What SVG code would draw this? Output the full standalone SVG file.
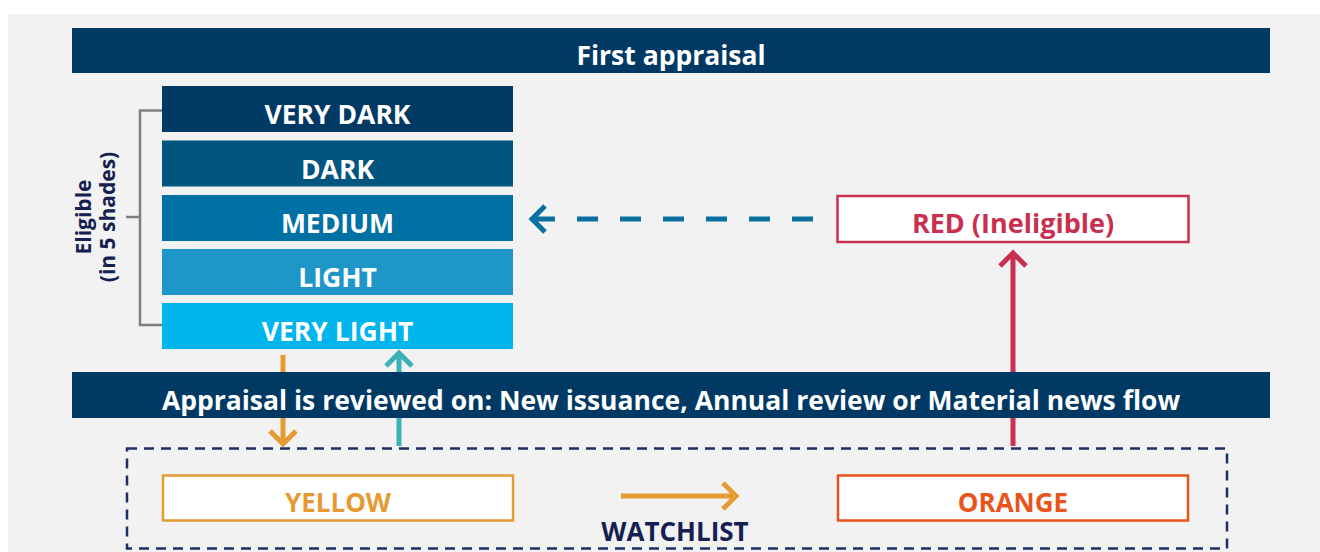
<svg xmlns="http://www.w3.org/2000/svg" width="1320" height="552" viewBox="0 0 1320 552">
<style>
text{font-family:"Open Sans","Noto Sans","Liberation Sans",sans-serif;font-weight:700;text-anchor:middle}
.wt{fill:#ffffff;font-size:26.5px}
.band{fill:#003a64}
.conn{fill:none;stroke-width:5}
.box{fill:#ffffff;stroke-width:2.5}
</style>
<rect x="0" y="0" width="1320" height="552" fill="#ffffff"/>
<rect x="8" y="14" width="1312" height="538" fill="#f2f2f2"/>

<g id="connectors">
  <path class="conn" d="M283 355V443M270 431L283 444L296 431" stroke="#e59b32"/>
  <path class="conn" d="M399 446V353M386 366L399 353L412 366" stroke="#3bb3b6"/>
  <path class="conn" d="M1013 446V253M1000 266L1013 253L1026 266" stroke="#c9304f"/>
  <path class="conn" d="M534 219H815" stroke="#0b6fa0" stroke-dasharray="21 22"/>
  <path class="conn" d="M545 206L532 219L545 232" stroke="#0b6fa0"/>
  <path class="conn" d="M621 496H734M723 483L736 496L723 509" stroke="#e59b32"/>
  <path d="M162 110.5H140V325H162M126 217H140" fill="none" stroke="#7f7f7f" stroke-width="2.5"/>
</g>

<g id="first-appraisal">
  <rect class="band" x="72" y="28" width="1198" height="45"/>
  <text class="wt" x="671" y="65">First appraisal</text>
</g>

<g id="eligible-label">
  <text transform="translate(91 217) rotate(-90)" x="0" y="0" style="font-size:21px;fill:#14204f">Eligible</text>
  <text transform="translate(115 217) rotate(-90)" x="0" y="0" style="font-size:21px;fill:#14204f">(in 5 shades)</text>
</g>

<g id="very-dark">
  <rect x="162" y="86" width="351" height="46" fill="#003a64"/>
  <text class="wt" x="337.5" y="124">VERY DARK</text>
</g>
<g id="dark">
  <rect x="162" y="140.5" width="351" height="46" fill="#01557f"/>
  <text class="wt" x="337.5" y="178.5">DARK</text>
</g>
<g id="medium">
  <rect x="162" y="195" width="351" height="46" fill="#0071a5"/>
  <text class="wt" x="337.5" y="232.5">MEDIUM</text>
</g>
<g id="light">
  <rect x="162" y="249" width="351" height="46" fill="#1e96c7"/>
  <text class="wt" x="337.5" y="286.5">LIGHT</text>
</g>
<g id="very-light">
  <rect x="162" y="303" width="351" height="46" fill="#00b4ec"/>
  <text class="wt" x="337.5" y="340.5">VERY LIGHT</text>
</g>

<g id="red">
  <rect class="box" x="837.5" y="196" width="351" height="46" stroke="#c9304f"/>
  <text x="1013" y="233" style="font-size:27px;fill:#c9304f">RED (Ineligible)</text>
</g>

<g id="review">
  <rect class="band" x="72" y="372" width="1198" height="46"/>
  <text class="wt" x="671" y="410">Appraisal is reviewed on: New issuance, Annual review or Material news flow</text>
</g>

<g id="watchlist">
  <rect x="127" y="448.5" width="1100" height="100" fill="none" stroke="#1f2f66" stroke-width="2.5" stroke-dasharray="10 7"/>
  <text x="675" y="541" style="font-size:26px;fill:#14204f">WATCHLIST</text>
</g>

<g id="yellow">
  <rect class="box" x="163" y="475.5" width="350" height="45" stroke="#e59b32"/>
  <text x="338" y="512" style="font-size:26px;fill:#e59b32">YELLOW</text>
</g>

<g id="orange">
  <rect class="box" x="838" y="475.5" width="350" height="45" stroke="#e8541c"/>
  <text x="1013" y="512" style="font-size:26px;fill:#e8541c">ORANGE</text>
</g>
</svg>
